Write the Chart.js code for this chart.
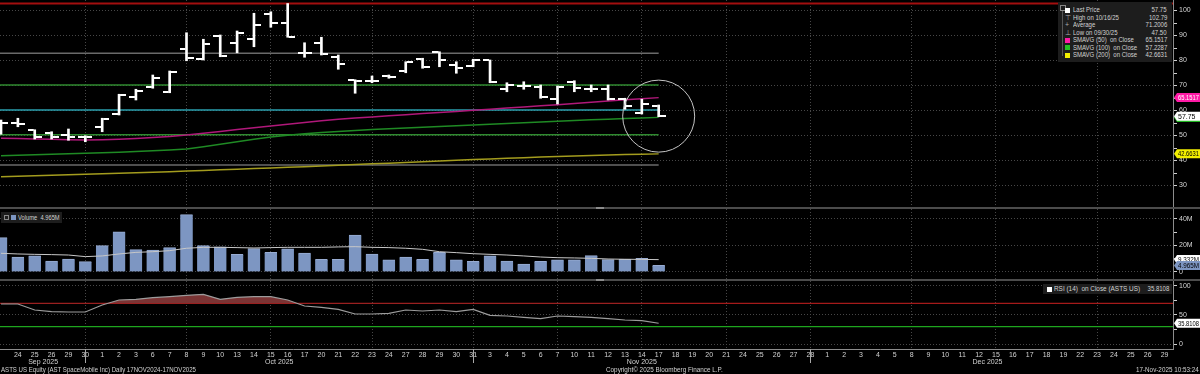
<!DOCTYPE html>
<html>
<head>
<meta charset="utf-8">
<title>ASTS US Equity</title>
<script src="https://cdn.jsdelivr.net/npm/chart.js@4.4.1/dist/chart.umd.min.js"></script>
<style>
  html, body { margin: 0; padding: 0; background: #000; }
  body { width: 1200px; height: 374px; position: relative; overflow: hidden;
         font-family: 'Liberation Sans', Arial, sans-serif; color: #d2d2d2; }
  canvas { position: absolute; left: 0; }
  .sep { position: absolute; left: 0; width: 1200px; height: 2px; background: #4c4c4c; }
  .grip { position: absolute; left: 596px; width: 8px; height: 2px; background: #8c8c8c; }
  .t { position: absolute; font-size: 7px; line-height: 8px; white-space: pre; }
  .box { position: absolute; background: #1d1d1d; }
  .sw { position: absolute; width: 5px; height: 5px; }
</style>
</head>
<body>
<canvas id="price" width="1200" height="207" style="top:0"></canvas>
<div class="sep" style="top:207px"></div><div class="grip" style="top:207px"></div>
<canvas id="volume" width="1200" height="70" style="top:209px"></canvas>
<div class="sep" style="top:279px"></div><div class="grip" style="top:279px"></div>
<canvas id="rsi" width="1200" height="93" style="top:281px"></canvas>
<div id="overlay"></div>
<script>
// daily bars, Sep 23 - Nov 17 2025
const dates = ['09/23','09/24','09/25','09/26','09/29','09/30','10/01','10/02','10/03','10/06',
  '10/07','10/08','10/09','10/10','10/13','10/14','10/15','10/16','10/17','10/20',
  '10/21','10/22','10/23','10/24','10/27','10/28','10/29','10/30','10/31','11/03',
  '11/04','11/05','11/06','11/07','11/10','11/11','11/12','11/13','11/14','11/17'];
const open  = [52.5, 54.9, 52.2, 50.9, 50.2, 49.3, 53.5, 58.6, 65.5, 69.3,
  67.5, 84.5, 80.5, 89.8, 86.9, 88.5, 98.6, 94.9, 83.1, 86.9,
  81.5, 72.2, 71.9, 73.8, 75.9, 80.5, 83.3, 78.2, 77.9, 80.2,
  68.5, 69.8, 69.3, 64.5, 71.5, 68.5, 68.5, 64.5, 59.1, 61.8];
const high  = [56.2, 56.9, 52.3, 51.5, 52.6, 49.9, 56.9, 66.5, 68.5, 74.2,
  75.8, 91.1, 88.5, 90.2, 91.8, 98.9, 99.5, 102.79, 87.1, 89.3,
  82.2, 72.3, 73.8, 74.2, 79.5, 80.9, 83.5, 79.5, 80.5, 80.2,
  71.1, 71.5, 70.2, 69.8, 71.9, 70.2, 70.2, 64.9, 64.5, 62.2];
const low   = [50.5, 53.5, 48.6, 48.6, 48.1, 47.5, 51.5, 58.2, 64.2, 68.9,
  67.1, 79.9, 80.2, 81.5, 83.1, 85.5, 93.3, 89.3, 81.3, 82.2,
  76.5, 66.9, 71.1, 72.9, 75.1, 76.9, 77.5, 74.9, 77.5, 71.1,
  67.5, 68.5, 64.9, 62.6, 67.5, 67.5, 64.2, 60.5, 58.6, 57.5];
const close = [54.9, 54.8, 49.5, 49.3, 49.3, 49.5, 56.6, 66.2, 67.9, 72.9,
  75.5, 80.9, 86.6, 81.8, 90.9, 94.2, 95.1, 89.3, 83.0, 82.6,
  78.6, 72.0, 71.9, 73.4, 79.5, 77.5, 80.2, 76.9, 80.2, 71.4,
  70.2, 69.8, 65.3, 69.3, 68.9, 68.5, 64.5, 61.7, 62.6, 57.75];
const sma50  = [48.9, 48.8, 48.6, 48.5, 48.3, 48.2, 48.3, 48.5, 48.8, 49.2,
  49.6, 50.2, 50.9, 51.6, 52.4, 53.1, 53.8, 54.5, 55.2, 55.9,
  56.5, 57.0, 57.4, 57.9, 58.3, 58.8, 59.2, 59.6, 60.1, 60.5,
  61.0, 61.4, 61.9, 62.3, 62.8, 63.3, 63.8, 64.3, 64.7, 65.1517];
const sma100 = [41.9, 42.1, 42.3, 42.5, 42.7, 42.9, 43.1, 43.3, 43.6, 43.9,
  44.2, 44.6, 45.5, 46.5, 47.5, 48.5, 49.4, 50.1, 50.7, 51.2,
  51.6, 52.0, 52.4, 52.7, 53.0, 53.3, 53.6, 53.9, 54.2, 54.5,
  54.8, 55.1, 55.4, 55.7, 56.0, 56.3, 56.5, 56.8, 57.0, 57.2287];
const sma200 = [33.5, 33.7, 33.9, 34.1, 34.3, 34.5, 34.7, 34.9, 35.1, 35.3,
  35.5, 35.8, 36.0, 36.3, 36.5, 36.8, 37.0, 37.3, 37.5, 37.8,
  38.1, 38.4, 38.7, 38.9, 39.2, 39.5, 39.8, 40.1, 40.4, 40.6,
  40.9, 41.1, 41.4, 41.6, 41.8, 42.0, 42.2, 42.4, 42.5, 42.6631];
// volume in millions
const volume = [25.9, 11.3, 12.1, 8.3, 9.8, 7.8, 19.9, 30.2, 16.9, 16.6,
  18.4, 43.3, 19.9, 18.9, 13.3, 17.6, 14.8, 17.4, 14.3, 9.6,
  9.6, 27.9, 13.6, 9.1, 11.3, 9.6, 14.8, 9.1, 8.1, 12.1,
  8.3, 6.0, 8.1, 9.1, 9.1, 12.3, 9.3, 9.6, 10.3, 4.965];
const volAvg = [14.1, 13.6, 13.3, 13.1, 12.8, 11.6, 12.1, 13.6, 14.8, 15.3,
  16.1, 17.9, 18.6, 18.6, 18.4, 18.1, 18.4, 18.6, 18.6, 18.6,
  18.9, 19.1, 18.6, 18.4, 17.9, 17.1, 15.3, 14.6, 13.8, 13.3,
  12.8, 12.1, 11.3, 10.8, 10.6, 10.3, 9.8, 9.6, 9.5, 9.332];
const rsi14 = [69, 69, 58.6, 55.7, 55.2, 55.2, 67.2, 75.9, 77, 79.9,
  81.6, 83.9, 85.6, 77, 80.5, 81.6, 81.6, 75.9, 65.5, 63.2,
  59.7, 51.7, 51.7, 52.9, 58.6, 56.9, 58.6, 55.7, 59.7, 49.4,
  48.3, 46, 43.7, 48.3, 47.1, 46, 43.7, 41.4, 40.2, 35.8108];

// horizontal lines on the price panel
const highLine = 102.79;
const levelLines = [82.9, 70.2, 60.2, 50.3, 38.2];
const levelColors = ['#6a6a6a', '#2f8a2f', '#2a9fae', '#2f8a2f', '#6a6a6a'];
const rsiBands = [70, 30];
const rsiBandColors = ['#a51a1a', '#1ea51e'];

// x axis: every trading day, including the empty range to the right
const axisDays = [23, 24, 25, 26, 29, 30,
  1, 2, 3, 6, 7, 8, 9, 10, 13, 14, 15, 16, 17, 20, 21, 22, 23, 24, 27, 28, 29, 30, 31,
  3, 4, 5, 6, 7, 10, 11, 12, 13, 14, 17, 18, 19, 20, 21, 24, 25, 26, 27, 28,
  1, 2, 3, 4, 5, 8, 9, 10, 11, 12, 15, 16, 17, 18, 19, 22, 23, 24, 25, 26, 29];
const months = ['Sep 2025', 'Oct 2025', 'Nov 2025', 'Dec 2025'];
const gridDays = [5, 11, 16, 22, 28, 33, 38, 43, 48, 54, 59, 65];

const priceTicks = [30, 40, 50, 60, 70, 80, 90, 100];
const volTicks = [0, 20, 40];
const rsiTicks = [0, 50, 100];

const FAMILY = "'Liberation Sans', Arial, sans-serif";
const FONT = { family: FAMILY, size: 7 };
const GRID = '#474747';
const X_MIN = -0.06, X_MAX = 69.5;
const last = close.length - 1;

Chart.defaults.font.family = FAMILY;
Chart.defaults.animation = false;

const pts = arr => arr.map((v, i) => ({ x: i, y: v }));
const span = (v, a, b) => [{ x: a, y: v }, { x: b, y: v }];

function xAxis(showLabels) {
  return {
    type: 'linear', min: X_MIN, max: X_MAX, offset: false,
    afterBuildTicks: s => { s.ticks = axisDays.map((d, i) => ({ value: i })); },
    afterFit: s => { s.height = showLabels ? 25 : 0; s.paddingLeft = 0; s.paddingRight = 0; },
    grid: {
      color: c => (c.tick && gridDays.includes(c.tick.value)) ? GRID : 'rgba(0,0,0,0)',
      drawTicks: false, offset: false
    },
    border: { display: showLabels, color: '#8c8c8c', dash: [1, 2] },
    ticks: {
      display: showLabels, autoSkip: false, maxRotation: 0, minRotation: 0,
      padding: 2, color: '#d2d2d2', font: FONT,
      callback: v => v === 0 ? '' : String(axisDays[v])
    }
  };
}

function yAxis(range, labels, minor, fmt) {
  return {
    type: 'linear', position: 'right', min: range[0], max: range[1],
    afterBuildTicks: s => {
      const t = [];
      for (let v = labels[0]; v <= labels[labels.length - 1]; v += minor) t.push({ value: v });
      s.ticks = t;
    },
    afterFit: s => { s.width = 27; s.paddingTop = 0; s.paddingBottom = 0; },
    grid: {
      color: c => (c.tick && labels.includes(c.tick.value)) ? GRID : 'rgba(0,0,0,0)',
      tickColor: '#cfcfcf', tickLength: 4, drawTicks: true
    },
    border: { display: true, color: '#8c8c8c', dash: [1, 2] },
    ticks: {
      autoSkip: false, padding: 2, color: '#d6d6d6', font: FONT,
      callback: v => labels.includes(v) ? fmt(v) : ''
    }
  };
}

// value tags on the right axis
function tagPlugin(list) {
  return {
    id: 'tags',
    afterDraw(chart) {
      const { ctx, chartArea, scales: { y } } = chart;
      ctx.save();
      ctx.font = '7px ' + FAMILY;
      ctx.textBaseline = 'middle';
      list.forEach(t => {
        const py = y.getPixelForValue(t.value), x0 = chartArea.right + 1, h = 9;
        ctx.beginPath();
        ctx.moveTo(x0, py);
        ctx.lineTo(x0 + 3, py - h / 2);
        ctx.lineTo(chart.width, py - h / 2);
        ctx.lineTo(chart.width, py + h / 2);
        ctx.lineTo(x0 + 3, py + h / 2);
        ctx.closePath();
        ctx.fillStyle = t.bg;
        ctx.fill();
        ctx.fillStyle = t.fg;
        ctx.fillText(t.text, x0 + 4, py + 0.5, chart.width - x0 - 5);
      });
      ctx.restore();
    }
  };
}

function tickImage(side) {
  const c = document.createElement('canvas');
  c.width = 14; c.height = 2;
  const g = c.getContext('2d');
  g.fillStyle = '#ffffff';
  g.fillRect(side < 0 ? 0 : 8, 0, 6, 2);
  return c;
}

const circlePlugin = {
  id: 'circle',
  afterDatasetsDraw(chart) {
    const { ctx, scales: { x, y } } = chart;
    ctx.save();
    ctx.strokeStyle = '#c4c4c4';
    ctx.lineWidth = 1;
    ctx.beginPath();
    ctx.arc(x.getPixelForValue(last), y.getPixelForValue(close[last]), 36, 0, Math.PI * 2);
    ctx.stroke();
    ctx.restore();
  }
};

const baseOpts = {
  responsive: false, animation: false, events: [],
  layout: { padding: 0, autoPadding: false },
  plugins: { legend: { display: false }, tooltip: { enabled: false } }
};

// price panel
new Chart(document.getElementById('price'), {
  type: 'line',
  data: {
    datasets: [
      { type: 'bar', data: dates.map((d, i) => ({ x: i, y: [low[i], high[i]] })),
        backgroundColor: '#ffffff', barThickness: 2, order: 0 },
      { data: pts(open), showLine: false, pointStyle: tickImage(-1), pointRadius: 3, order: 0 },
      { data: pts(close), showLine: false, pointStyle: tickImage(1), pointRadius: 3, order: 0 },
      { data: pts(sma50), borderColor: '#b0187a', borderWidth: 1.3, pointRadius: 0, order: 1 },
      { data: pts(sma100), borderColor: '#1f8a24', borderWidth: 1.3, pointRadius: 0, order: 1 },
      { data: pts(sma200), borderColor: '#a39c1e', borderWidth: 1.3, pointRadius: 0, order: 1 },
      { data: span(highLine, X_MIN, X_MAX), borderColor: '#a30f0f', borderWidth: 2, pointRadius: 0, order: 2 },
      ...levelLines.map((v, k) => ({
        data: span(v, X_MIN, last), borderColor: levelColors[k], borderWidth: 1.5, pointRadius: 0, order: 2
      }))
    ]
  },
  options: {
    ...baseOpts,
    scales: {
      x: xAxis(false),
      y: yAxis([21.4, 104.2], priceTicks, 5, v => String(v))
    }
  },
  plugins: [circlePlugin, tagPlugin([
    { value: sma200[last], text: String(sma200[last]), bg: '#f2ee00', fg: '#000' },
    { value: sma100[last], text: String(sma100[last]), bg: '#22b822', fg: '#000' },
    { value: close[last], text: close[last].toFixed(2), bg: '#ffffff', fg: '#000' },
    { value: sma50[last], text: String(sma50[last]), bg: '#ff1aa6', fg: '#fff' }
  ])]
});

// volume panel
new Chart(document.getElementById('volume'), {
  type: 'line',
  data: {
    datasets: [
      { data: pts(volAvg), borderColor: '#c8c8c8', borderWidth: 1, pointRadius: 0, order: 0 },
      { type: 'bar', data: pts(volume), backgroundColor: '#7d96c2', borderColor: '#98acd2',
        borderWidth: { top: 1, left: 0, right: 0, bottom: 0 }, barThickness: 12.5, order: 1 }
    ]
  },
  options: {
    ...baseOpts,
    scales: {
      x: xAxis(false),
      y: yAxis([-5.28, 47.5], volTicks, 10, v => v === 0 ? '0' : v + 'M')
    }
  },
  plugins: [tagPlugin([
    { value: volAvg[last], text: volAvg[last] + 'M', bg: '#ffffff', fg: '#000' },
    { value: volume[last], text: volume[last] + 'M', bg: '#7d96c2', fg: '#000' }
  ])]
});

// RSI panel + date axis
const monthPlugin = {
  id: 'months',
  afterDraw(chart) {
    const { ctx, chartArea, scales: { x } } = chart;
    const ends = [], starts = [0];
    axisDays.forEach((d, i) => { if (i > 0 && d < axisDays[i - 1]) { ends.push(i - 1); starts.push(i); } });
    ends.push(axisDays.length - 1);
    ctx.save();
    ctx.strokeStyle = '#a8a8a8';
    ctx.lineWidth = 1;
    ends.slice(0, -1).forEach(i => {
      const px = Math.round(x.getPixelForValue(i)) + 0.5;
      ctx.beginPath();
      ctx.moveTo(px, chartArea.bottom);
      ctx.lineTo(px, chartArea.bottom + 14);
      ctx.stroke();
    });
    ctx.fillStyle = '#d2d2d2';
    ctx.font = '7px ' + FAMILY;
    ctx.textAlign = 'center';
    ctx.textBaseline = 'middle';
    months.forEach((m, k) => {
      const mid = k === 0 ? (starts[k] + ends[k]) / 2 : (starts[k] + ends[k]) / 2 - 0.5;
      ctx.fillText(m, x.getPixelForValue(mid), chartArea.bottom + 13);
    });
    ctx.restore();
  }
};

new Chart(document.getElementById('rsi'), {
  type: 'line',
  data: {
    datasets: [
      { data: pts(rsi14), borderColor: '#9c9c9c', borderWidth: 1.2, pointRadius: 0, order: 0,
        fill: { target: { value: rsiBands[0] }, above: '#7a3434', below: 'rgba(0,0,0,0)' } },
      ...rsiBands.map((v, k) => ({
        data: span(v, X_MIN, X_MAX), borderColor: rsiBandColors[k], borderWidth: 1.2, pointRadius: 0, order: 1
      }))
    ]
  },
  options: {
    ...baseOpts,
    scales: {
      x: xAxis(true),
      y: yAxis([-8.6, 108.6], rsiTicks, 25, v => String(v))
    }
  },
  plugins: [monthPlugin, tagPlugin([
    { value: rsi14[last], text: String(rsi14[last]), bg: '#ffffff', fg: '#000' }
  ])]
});

// legends and footer (HTML text)
const ov = document.getElementById('overlay');
function add(cls, style, text) {
  const el = document.createElement('div');
  el.className = cls;
  Object.assign(el.style, style);
  if (text !== undefined) el.textContent = text;
  ov.appendChild(el);
  return el;
}
function squeeze(el, k, origin) {
  el.style.transformOrigin = origin;
  el.style.transform = 'scaleX(' + k + ')';
  return el;
}
function fit(el, w, origin) {
  return squeeze(el, w / el.offsetWidth, origin);
}

const legendRows = [
  ['Last Price', close[last].toFixed(2), '#ffffff', null],
  ['High on 10/16/25', highLine.toFixed(2), null, '\u22A4'],
  ['Average', '71.2006', null, '+'],
  ['Low on 09/30/25', '47.50', null, '\u22A5'],
  ['SMAVG (50)  on Close', String(sma50[last]), '#ff1aa6', null],
  ['SMAVG (100)  on Close', String(sma100[last]), '#22c022', null],
  ['SMAVG (200)  on Close', String(sma200[last]), '#f2ee00', null]
];
add('box', { left: '1058px', top: '2px', width: '114px', height: '60px' });
add('box', { left: '1062px', top: '8px', width: '1px', height: '48px', background: '#555' });
add('box', { left: '1060px', top: '5px', width: '4px', height: '4px', border: '1px solid #888', background: '#1d1d1d' });
legendRows.forEach((r, k) => {
  const cy = 10 + k * 7.5;
  if (r[2]) add('sw', { left: '1065px', top: (cy - 2.5) + 'px', background: r[2] });
  if (r[3]) add('t', { left: '1065px', top: (cy - 4) + 'px', color: '#aaa' }, r[3]);
  squeeze(add('t', { left: '1073px', top: (cy - 4) + 'px' }, r[0]), 0.86, 'left');
  squeeze(add('t', { right: '33px', top: (cy - 4) + 'px', textAlign: 'right' }, r[1]), 0.86, 'right');
});

add('box', { left: '1px', top: '212px', width: '61px', height: '11px' });
add('box', { left: '4px', top: '215px', width: '3px', height: '3px', border: '1px solid #888', background: '#1d1d1d' });
add('sw', { left: '11px', top: '215px', background: '#7d96c2' });
fit(add('t', { left: '18px', top: '213.5px' }, 'Volume  ' + volume[last] + 'M'), 42, 'left');

add('box', { left: '1043px', top: '284px', width: '129px', height: '10px' });
add('sw', { left: '1047px', top: '286.5px', background: '#ffffff' });
fit(add('t', { left: '1054px', top: '285px' }, 'RSI (14)  on Close (ASTS US)'), 86, 'left');
squeeze(add('t', { right: '31px', top: '285px', textAlign: 'right' }, String(rsi14[last])), 0.86, 'right');

fit(add('t', { left: '1px', top: '366px' }, 'ASTS US Equity (AST SpaceMobile Inc) Daily 17NOV2024-17NOV2025'), 195, 'left');
fit(add('t', { left: '606px', top: '366px' }, 'Copyright\u00A9 2025 Bloomberg Finance L.P.'), 117, 'left');
fit(add('t', { right: '1px', top: '366px' }, '17-Nov-2025 10:53:24'), 63, 'right');
</script>
</body>
</html>
